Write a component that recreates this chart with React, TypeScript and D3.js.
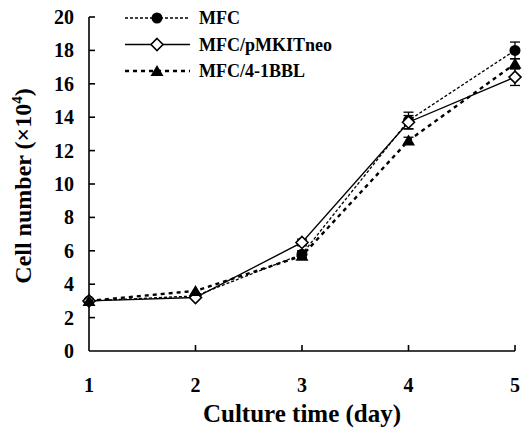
import React, { useEffect, useRef } from 'react';
import * as d3 from 'd3';

const days = [1, 2, 3, 4, 5];
const mfc = [3.0, 3.3, 5.8, 13.8, 18.0];
const mfcErr = [0.1, 0.1, 0.2, 0.5, 0.5];
const pmkit = [3.0, 3.2, 6.5, 13.7, 16.4];
const pmkitErr = [0.1, 0.1, 0.2, 0.4, 0.5];
const bbl = [3.0, 3.6, 5.7, 12.6, 17.2];
const bblErr = [0.1, 0.1, 0.2, 0.2, 0.3];
const yTicks = [0, 2, 4, 6, 8, 10, 12, 14, 16, 18, 20];

const series = [
    { name: 'MFC', values: mfc, err: mfcErr, dash: '3,2', width: 1.3, marker: 'circle' },
    { name: 'MFC/pMKITneo', values: pmkit, err: pmkitErr, dash: null, width: 1.4, marker: 'diamond' },
    { name: 'MFC/4-1BBL', values: bbl, err: bblErr, dash: '4,4', width: 2.4, marker: 'triangle' },
];

const App = () => {
    const chartRef = useRef(null);

    useEffect(() => {
        drawChart();
    }, []);

    const drawChart = () => {
        const svg = d3.select(chartRef.current);
        svg.selectAll('*').remove();
        const font = '"Liberation Serif", "Times New Roman", serif';

        const x = d3.scaleLinear().domain([1, 5]).range([89, 515]);
        const y = d3.scaleLinear().domain([0, 20]).range([351, 17]);

        // axes
        const ax = svg.append('g').attr('stroke', '#000').attr('stroke-width', 1.6);
        ax.append('line').attr('x1', x(1)).attr('x2', x(5)).attr('y1', y(0)).attr('y2', y(0));
        ax.append('line').attr('x1', x(1)).attr('x2', x(1)).attr('y1', y(0)).attr('y2', y(20));
        ax.selectAll('.yt').data(yTicks.slice(1)).enter().append('line')
            .attr('x1', x(1)).attr('x2', x(1) + 6).attr('y1', d => y(d)).attr('y2', d => y(d));
        ax.selectAll('.xt').data(days.slice(1)).enter().append('line')
            .attr('x1', d => x(d)).attr('x2', d => x(d)).attr('y1', y(0)).attr('y2', y(0) - 6);

        svg.selectAll('.ylab').data(yTicks).enter().append('text')
            .attr('x', x(1) - 15).attr('y', d => y(d)).attr('dy', '0.35em')
            .attr('text-anchor', 'end').attr('font-family', font).attr('font-weight', 'bold')
            .attr('font-size', 20).text(d => d);
        svg.selectAll('.xlab').data(days).enter().append('text')
            .attr('x', d => x(d)).attr('y', 392).attr('text-anchor', 'middle')
            .attr('font-family', font).attr('font-weight', 'bold').attr('font-size', 20).text(d => d);

        svg.append('text').attr('x', 302).attr('y', 422).attr('text-anchor', 'middle')
            .attr('font-family', font).attr('font-weight', 'bold').attr('font-size', 25)
            .text('Culture time (day)');

        const yl = svg.append('text').attr('transform', 'translate(31,186) rotate(-90)')
            .attr('text-anchor', 'middle').attr('font-family', font).attr('font-weight', 'bold')
            .attr('font-size', 24);
        yl.append('tspan').text('Cell number (\u00d710');
        yl.append('tspan').attr('dy', -9).attr('font-size', 15).text('4');
        yl.append('tspan').attr('dy', 9).text(')');

        const drawMarker = (g, type, cx, cy) => {
            if (type === 'circle') {
                g.append('circle').attr('cx', cx).attr('cy', cy).attr('r', 5.5).attr('fill', '#000');
            } else if (type === 'diamond') {
                g.append('path').attr('d', `M${cx},${cy - 6}L${cx + 6},${cy}L${cx},${cy + 6}L${cx - 6},${cy}Z`)
                    .attr('fill', '#fff').attr('stroke', '#000').attr('stroke-width', 1.6);
            } else {
                g.append('path').attr('d', `M${cx},${cy - 6}L${cx + 6.5},${cy + 5}L${cx - 6.5},${cy + 5}Z`)
                    .attr('fill', '#000');
            }
        };

        const line = d3.line<number>().x((d, i) => x(days[i])).y(d => y(d));

        series.forEach(s => {
            const g = svg.append('g');
            g.append('path').datum(s.values).attr('d', line).attr('fill', 'none')
                .attr('stroke', '#000').attr('stroke-width', s.width)
                .attr('stroke-dasharray', s.dash);
            s.values.forEach((v, i) => {
                const e = s.err[i];
                if (e > 0.15) {
                    g.append('line').attr('x1', x(days[i])).attr('x2', x(days[i]))
                        .attr('y1', y(v - e)).attr('y2', y(v + e)).attr('stroke', '#000').attr('stroke-width', 1.3);
                    [v - e, v + e].forEach(t => {
                        g.append('line').attr('x1', x(days[i]) - 5).attr('x2', x(days[i]) + 5)
                            .attr('y1', y(t)).attr('y2', y(t)).attr('stroke', '#000').attr('stroke-width', 1.3);
                    });
                }
                drawMarker(g, s.marker, x(days[i]), y(v));
            });
        });

        // legend
        series.forEach((s, i) => {
            const ly = 18 + i * 26.5;
            const g = svg.append('g');
            g.append('line').attr('x1', 125).attr('x2', 190).attr('y1', ly).attr('y2', ly)
                .attr('stroke', '#000').attr('stroke-width', s.width).attr('stroke-dasharray', s.dash);
            drawMarker(g, s.marker, 157, ly);
            g.append('text').attr('x', 199).attr('y', ly).attr('dy', '0.35em')
                .attr('font-family', font).attr('font-weight', 'bold').attr('font-size', 18).text(s.name);
        });
    };

    return <svg ref={chartRef} width={530} height={433} style={{ position: 'absolute', left: 0, top: 0, background: '#fff' }} />;
};

export default App;
